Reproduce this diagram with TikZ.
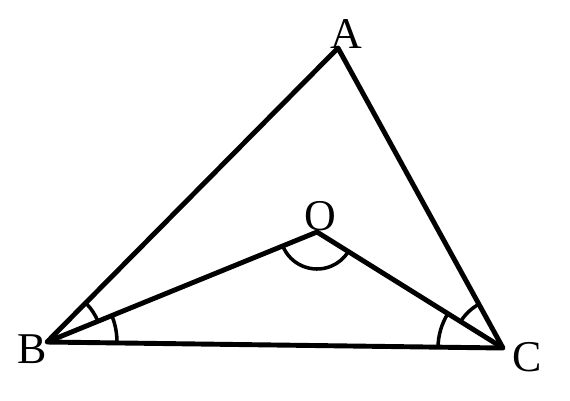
\documentclass[tikz,border=0pt]{standalone}
\usepackage{fontspec}
\setmainfont{Liberation Serif}
\usetikzlibrary{angles}

\begin{document}
\begin{tikzpicture}[x=0.02cm, y=-0.02cm, line join=round,
    side/.style={line width=2.8pt},
    anglearc/.style={draw, line width=2pt},
    vlabel/.style={font=\fontsize{25}{29}\selectfont, inner sep=0pt}]
        \useasboundingbox (0,0) rectangle (570,400);
        \coordinate (A) at (338,48);
        \coordinate (B) at (47,342);
        \coordinate (C) at (503,348);
        \coordinate (O) at (317,232);

        \draw[side] (A) -- (B) -- (C) -- cycle;
        \draw[side] (B) -- (O) -- (C);

        % equal angles at B and C, and the angle at O
        \pic[anglearc, angle radius=1.1cm] {angle=O--B--A};
        \pic[anglearc, angle radius=1.4cm] {angle=C--B--O};
        \pic[anglearc, angle radius=1.0cm] {angle=A--C--O};
        \pic[anglearc, angle radius=1.3cm] {angle=O--C--B};
        \pic[anglearc, angle radius=0.74cm] {angle=B--O--C};

        \node[vlabel] (lA) at (346,34) {A};
        \node[vlabel] (lB) at (32,349) {B};
        \node[vlabel] (lC) at (527,357) {C};
        \node[vlabel] (lO) at (320,216) {O};
\end{tikzpicture}
\end{document}
